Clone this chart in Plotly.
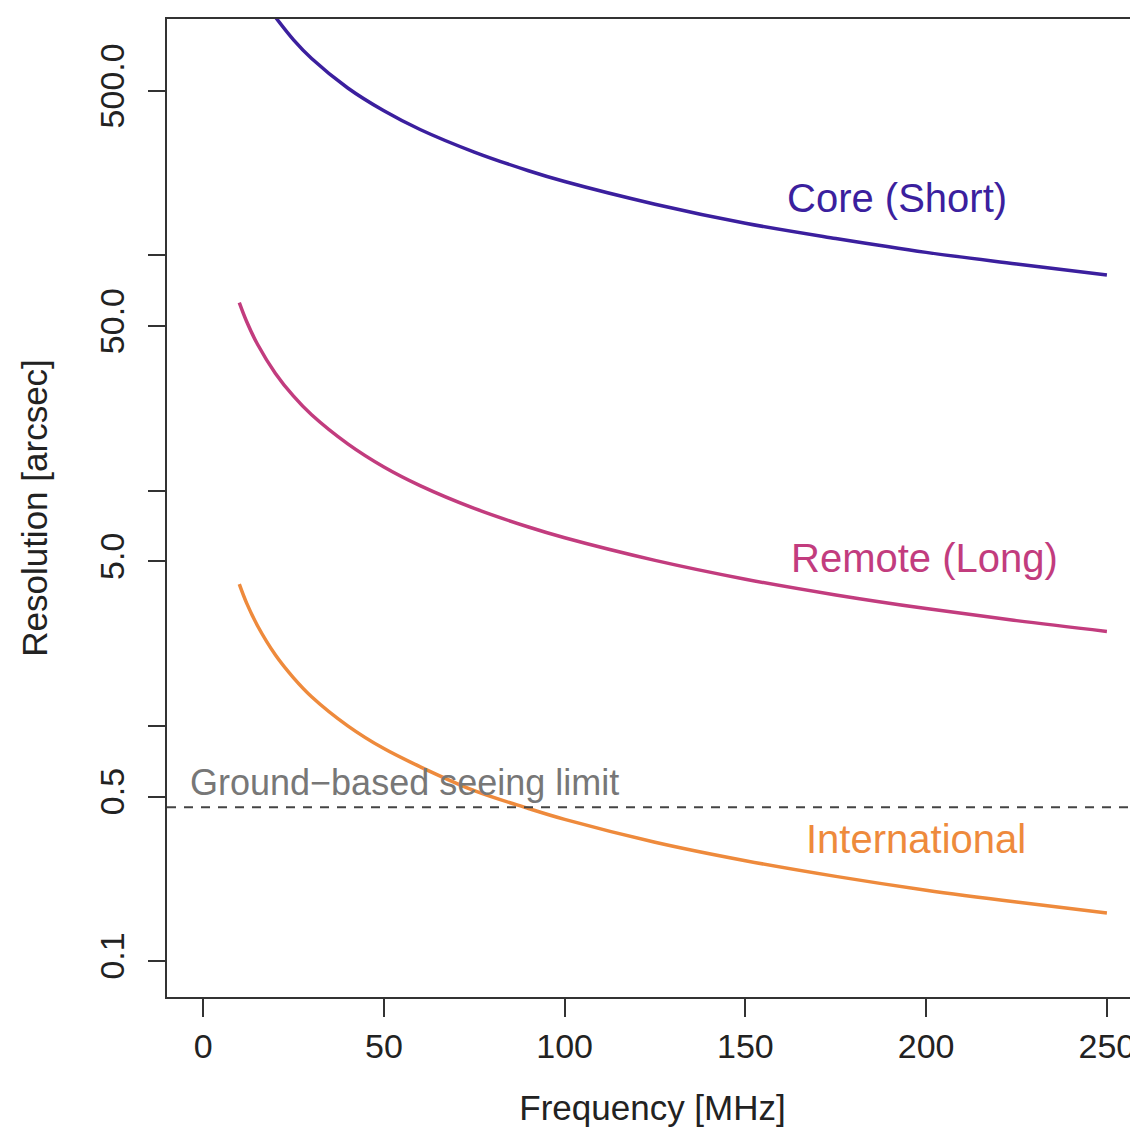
import plotly.graph_objects as go

# Frequencies [MHz]
freq_core = [20, 25, 30, 40, 50, 60, 75, 90, 100, 125, 150, 175, 200, 225, 250]
freq = [10, 12, 15, 20, 25, 30, 40, 50, 60, 75, 90, 100, 125, 150, 175, 200, 225, 250]

# Resolution [arcsec]
core_res = [1030, 825, 687, 515, 412, 343, 275, 229, 206, 165, 137, 118, 103, 92, 82.5]
remote_res = [63, 52.5, 42, 31.5, 25.2, 21, 15.8, 12.6, 10.5, 8.4, 7.0, 6.3, 5.05, 4.2, 3.6, 3.15, 2.8, 2.52]
intl_res = [4.0, 3.33, 2.67, 2.0, 1.6, 1.33, 1.0, 0.8, 0.67, 0.53, 0.445, 0.4, 0.32, 0.267, 0.229, 0.2, 0.178, 0.16]

seeing_limit = 0.45

y_tickvals = [0.1, 0.5, 1, 5, 10, 50, 100, 500]
y_ticktext = ["0.1", "0.5", "", "5.0", "", "50.0", "", "500.0"]
x_tickvals = [0, 50, 100, 150, 200, 250]

c_core = "#3B1F9E"
c_remote = "#C23C7E"
c_intl = "#EE8A3C"

FONT = "Liberation Sans, Arial, Helvetica, sans-serif"

fig = go.Figure()
for xs, ys, col in [(freq_core, core_res, c_core), (freq, remote_res, c_remote), (freq, intl_res, c_intl)]:
    fig.add_trace(go.Scatter(x=xs, y=ys, mode="lines",
                             line=dict(color=col, width=3.5, shape="spline"),
                             showlegend=False, hoverinfo="skip"))

fig.add_hline(y=seeing_limit, line=dict(color="#444444", width=2, dash="9px,8px"))

ann = [
    ("Core (Short)", 192, 2.244, c_core, 40, "center"),
    ("Remote (Long)", 199.6, 0.712, c_remote, 40, "center"),
    ("International", 197.1, -0.481, c_intl, 40, "center"),
    ("Ground\u2212based seeing limit", -4.3, -0.243, "#777777", 36, "left"),
]
for txt, x, y, col, size, xa in ann:
    fig.add_annotation(x=x, y=y, xref="x", yref="y", text=txt, showarrow=False,
                       xanchor=xa, yanchor="middle",
                       font=dict(family=FONT, size=size, color=col))

# The page body has an 8px margin, so the figure is offset by 8px right/down
fig.update_layout(
    width=1130, height=1119,
    margin=dict(l=159, r=0, t=11, b=130),
    paper_bgcolor="white", plot_bgcolor="white",
    font=dict(family=FONT, color="#222222"),
)
fig.update_xaxes(
    range=[-10, 258.6], tickvals=x_tickvals, ticks="outside", ticklen=18, tickwidth=1.5,
    tickcolor="#333333", showgrid=False, zeroline=False, showline=True, linecolor="#333333",
    linewidth=2, mirror=True, tickfont=dict(size=34, family=FONT, color="#222222"),
    title=dict(text="Frequency [MHz]", font=dict(size=35, family=FONT, color="#222222"), standoff=36),
)
fig.update_yaxes(
    type="log", range=[-1.153, 3.005], tickvals=y_tickvals, ticktext=y_ticktext,
    tickangle=-90, ticks="outside", ticklen=17, tickwidth=1.5, tickcolor="#333333",
    ticklabelstandoff=10,
    showgrid=False, zeroline=False, showline=True, linecolor="#333333", linewidth=2,
    tickfont=dict(size=34, family=FONT, color="#222222"),
    title=dict(text="Resolution [arcsec]", font=dict(size=35, family=FONT, color="#222222"), standoff=35),
)

fig.write_html("out.html")
